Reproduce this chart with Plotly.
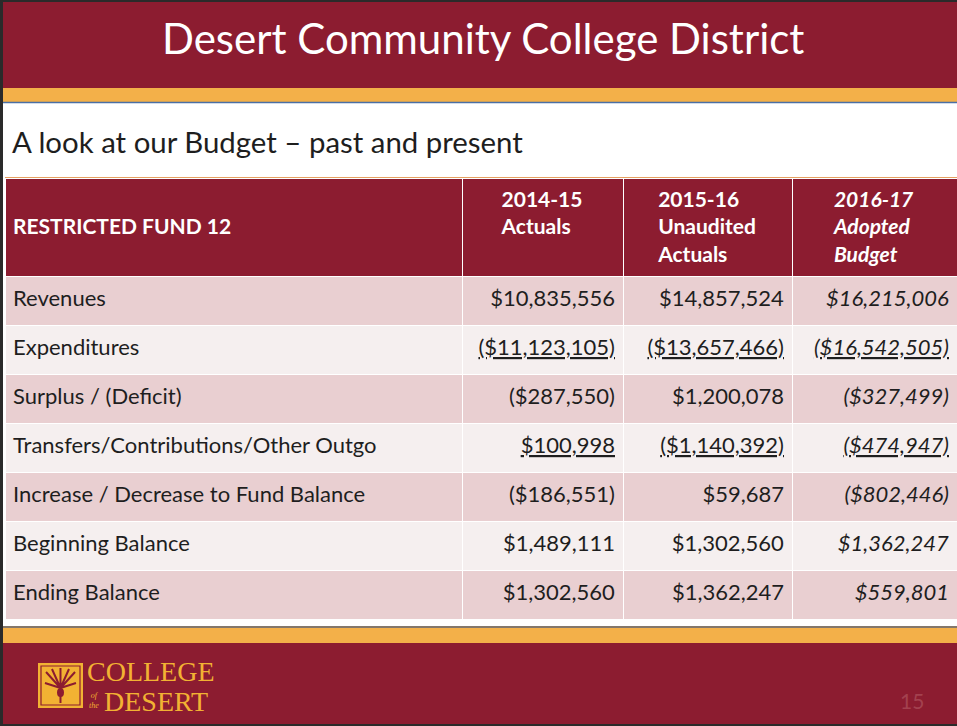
import plotly.graph_objects as go

W, H = 957, 726

# ---------------- data ----------------
title = "Desert Community College District"
subtitle = "A look at our Budget \u2013 past and present"
header_labels = ["RESTRICTED FUND 12", "2014-15<br>Actuals", "2015-16<br>Unaudited<br>Actuals",
                 "2016-17<br>Adopted<br>Budget"]
categories = ["Revenues", "Expenditures", "Surplus / (Deficit)",
              "Transfers/Contributions/Other Outgo", "Increase / Decrease to Fund Balance",
              "Beginning Balance", "Ending Balance"]
actuals_2014_15 = [10835556, -11123105, -287550, 100998, -186551, 1489111, 1302560]
unaudited_2015_16 = [14857524, -13657466, 1200078, -1140392, 59687, 1302560, 1362247]
adopted_2016_17 = [16215006, -16542505, -327499, -474947, -802446, 1362247, 559801]
underlined_rows = [1, 3]
page_number = "15"

# ---------------- style ----------------
MAROON = "#8c1c30"
GOLD = "#f3b049"
PINK = "#e9cfd1"
LIGHT = "#f5efef"
TEXT = "#1e1e1e"
FONT = "Lato"
LOGO_GOLD = "#f2b233"


def fmt(v, row, italic=False):
    s = "${:,}".format(abs(v))
    if v < 0:
        s = "(" + s + ")"
    if row in underlined_rows:
        s = "<u>" + s + "</u>"
    if italic:
        s = "<i>" + s + "</i>"
    else:
        s = "<span>" + s + "</span>"
    return s


col1 = ["<span>" + c + "</span>" for c in categories]
col2 = [fmt(v, i) for i, v in enumerate(actuals_2014_15)]
col3 = [fmt(v, i) for i, v in enumerate(unaudited_2015_16)]
col4 = [fmt(v, i, italic=True) for i, v in enumerate(adopted_2016_17)]

hdr = ["\u00a0<br><b>" + header_labels[0] + "</b>",
       "<b>" + header_labels[1] + "</b>",
       "<b>" + header_labels[2] + "</b>",
       "<b><i>" + header_labels[3] + "</i></b>"]

row_fill = [PINK if i % 2 == 0 else LIGHT for i in range(len(categories))]


def px(x):
    return x / W


def py(y):
    return 1 - y / H


fig = go.Figure()

fig.add_trace(go.Table(
    domain=dict(x=[px(5), px(957)], y=[py(624), py(178)]),
    columnwidth=[457, 161, 169, 165],
    header=dict(
        values=hdr,
        fill_color=MAROON,
        line=dict(color="white", width=1),
        align=["left", "center", "center", "center"],
        font=dict(family=FONT, size=21, color="white"),
        height=98,
    ),
    cells=dict(
        values=[col1, col2, col3, col4],
        fill_color=[row_fill] * 4,
        line=dict(color="white", width=1),
        align=["left", "right", "right", "right"],
        font=dict(family=FONT, size=22, color=TEXT),
        height=49,
    ),
))

shapes = []
# top band
shapes.append(dict(type="rect", xref="paper", yref="paper", x0=0, x1=1, y0=py(88), y1=1,
                   fillcolor=MAROON, line=dict(width=0), layer="below"))
shapes.append(dict(type="rect", xref="paper", yref="paper", x0=0, x1=1, y0=py(102), y1=py(88),
                   fillcolor=GOLD, line=dict(width=0), layer="below"))
shapes.append(dict(type="line", xref="paper", yref="paper", x0=0, x1=1, y0=py(102.5), y1=py(102.5),
                   line=dict(color="#4a6fa5", width=1.5)))
# thin orange line on top of table header
shapes.append(dict(type="line", xref="paper", yref="paper", x0=px(5), x1=1, y0=py(177.5), y1=py(177.5),
                   line=dict(color="#e6a060", width=1)))
# bottom band
shapes.append(dict(type="line", xref="paper", yref="paper", x0=0, x1=1, y0=py(627), y1=py(627),
                   line=dict(color="#5a4a3a", width=1.5)))
shapes.append(dict(type="rect", xref="paper", yref="paper", x0=0, x1=1, y0=py(643), y1=py(628),
                   fillcolor=GOLD, line=dict(width=0), layer="below"))
shapes.append(dict(type="rect", xref="paper", yref="paper", x0=0, x1=1, y0=0, y1=py(643),
                   fillcolor=MAROON, line=dict(width=0), layer="below"))
# slide border
shapes.append(dict(type="line", xref="paper", yref="paper", x0=px(1.5), x1=px(1.5), y0=0, y1=1,
                   line=dict(color="#2a2a2a", width=3)))
shapes.append(dict(type="line", xref="paper", yref="paper", x0=0, x1=1, y0=py(1), y1=py(1),
                   line=dict(color="#2a2a2a", width=2)))
shapes.append(dict(type="line", xref="paper", yref="paper", x0=0, x1=1, y0=py(725), y1=py(725),
                   line=dict(color="#2a2a2a", width=2)))

# logo box
shapes.append(dict(type="rect", xref="paper", yref="paper", x0=px(38), x1=px(83), y0=py(708), y1=py(663),
                   fillcolor=LOGO_GOLD, line=dict(width=0)))
shapes.append(dict(type="rect", xref="paper", yref="paper", x0=px(41), x1=px(80), y0=py(705), y1=py(666),
                   fillcolor="rgba(0,0,0,0)", line=dict(color=MAROON, width=1.2)))


def lp(x, y):
    return "{:.4f} {:.4f}".format(px(x), py(y))


plant = ("M " + lp(60.5, 703) + " L " + lp(60.5, 688) +
         " M " + lp(60.5, 688) + " L " + lp(46, 672) +
         " M " + lp(60.5, 688) + " L " + lp(52, 669) +
         " M " + lp(60.5, 688) + " L " + lp(60.5, 668) +
         " M " + lp(60.5, 688) + " L " + lp(69, 669) +
         " M " + lp(60.5, 688) + " L " + lp(75, 672) +
         " M " + lp(60.5, 688) + " L " + lp(45, 683) +
         " M " + lp(60.5, 688) + " L " + lp(76, 683))
shapes.append(dict(type="path", xref="paper", yref="paper", path=plant,
                   line=dict(color=MAROON, width=2)))
shapes.append(dict(type="circle", xref="paper", yref="paper", x0=px(57), x1=px(64), y0=py(697), y1=py(688),
                   fillcolor=MAROON, line=dict(width=0)))

annotations = [
    dict(text=title, x=px(483), y=py(38), xref="paper", yref="paper", showarrow=False,
         xanchor="center", yanchor="middle", font=dict(family=FONT, size=42, color="white")),
    dict(text=subtitle, x=px(10), y=py(141), xref="paper", yref="paper", showarrow=False,
         xanchor="left", yanchor="middle", font=dict(family=FONT, size=29.4, color=TEXT)),
    dict(text="COLLEGE", x=px(86), y=py(671), xref="paper", yref="paper", showarrow=False,
         xanchor="left", yanchor="middle", borderpad=0,
         font=dict(family="Liberation Serif", size=28, color=LOGO_GOLD)),
    dict(text="DESERT", x=px(103), y=py(701), xref="paper", yref="paper", showarrow=False,
         xanchor="left", yanchor="middle", borderpad=0,
         font=dict(family="Liberation Serif", size=28, color=LOGO_GOLD)),
    dict(text="<i>of<br>the</i>", x=px(94), y=py(700), xref="paper", yref="paper", showarrow=False,
         xanchor="center", yanchor="middle", borderpad=0,
         font=dict(family="Liberation Serif", size=8, color=LOGO_GOLD)),
    dict(text=page_number, x=px(912), y=py(700), xref="paper", yref="paper", showarrow=False,
         xanchor="center", yanchor="middle", font=dict(family=FONT, size=21, color="#a3414f")),
]

fig.update_layout(
    width=W, height=H,
    margin=dict(l=0, r=0, t=0, b=0),
    paper_bgcolor="white",
    plot_bgcolor="white",
    shapes=shapes,
    annotations=annotations,
    showlegend=False,
)

fig.write_html("out.html",
               config={"displayModeBar": False},
               post_script="document.body.style.margin='0';document.body.style.overflow='hidden';")
